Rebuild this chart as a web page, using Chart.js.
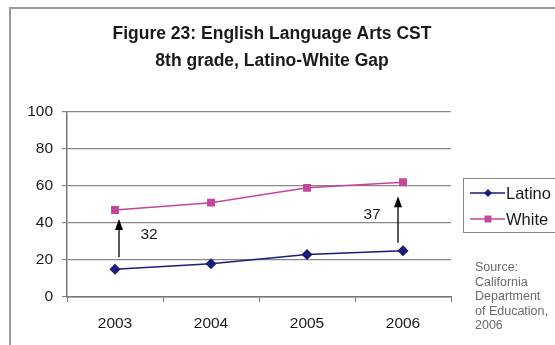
<!DOCTYPE html>
<html>
<head>
<meta charset="utf-8">
<script src="https://cdn.jsdelivr.net/npm/chart.js@4/dist/chart.umd.min.js"></script>
<style>
  html, body { margin: 0; padding: 0; background: #fff; }
  #wrap { width: 555px; height: 345px; }
</style>
</head>
<body>
<div id="wrap"><canvas id="chart" width="555" height="345"></canvas></div>
<script>
const years = ['2003', '2004', '2005', '2006'];
const latino = [15, 18, 23, 25];
const white = [47, 51, 59, 62];
const gapYears = ['2003', '2006'];
const gapLabels = ['32', '37'];
const titleLines = ['Figure 23: English Language Arts CST', '8th grade, Latino-White Gap'];
const sourceLines = ['Source:', 'California', 'Department', 'of Education,', '2006'];

const NAVY = '#1c1c7c';
const PINK = '#c4469c';
const FONT = '"Liberation Sans", Arial, sans-serif';

// frame, title, gap arrows, legend and source note
const decor = {
  id: 'decor',
  beforeDraw(chart){
    const ctx = chart.ctx;
    ctx.save();
    ctx.fillStyle = '#fff';
    ctx.fillRect(0, 0, chart.width, chart.height);
    ctx.strokeStyle = '#9a9a9a';
    ctx.lineWidth = 2;
    ctx.strokeRect(10, 8, 600, 400);
    ctx.restore();
  },
  afterDraw(chart){
    const ctx = chart.ctx;
    const x = chart.scales.x, y = chart.scales.y;
    ctx.save();

    // title
    ctx.fillStyle = '#1a1a1a';
    ctx.font = 'bold 17.5px ' + FONT;
    ctx.textAlign = 'center';
    ctx.textBaseline = 'middle';
    ctx.fillText(titleLines[0], 272, 34);
    ctx.fillText(titleLines[1], 272, 61);

    // gap arrows
    gapYears.forEach((yr, k) => {
      const i = years.indexOf(yr);
      const px = x.getPixelForValue(i) + (k === 0 ? 4 : -5);
      const yTop = y.getPixelForValue(white[i]) + (k === 0 ? 9 : 14);
      const yBot = y.getPixelForValue(latino[i]) - (k === 0 ? 12 : 8);
      ctx.strokeStyle = '#000';
      ctx.fillStyle = '#000';
      ctx.lineWidth = 1.3;
      ctx.beginPath();
      ctx.moveTo(px, yBot);
      ctx.lineTo(px, yTop + 8);
      ctx.stroke();
      ctx.beginPath();
      ctx.moveTo(px, yTop);
      ctx.lineTo(px - 4, yTop + 11);
      ctx.lineTo(px + 4, yTop + 11);
      ctx.closePath();
      ctx.fill();
      ctx.fillStyle = '#1a1a1a';
      ctx.font = '15.5px ' + FONT;
      ctx.textAlign = 'center';
      ctx.textBaseline = 'middle';
      const lx = k === 0 ? px + 30 : px - 26;
      const ly = k === 0 ? y.getPixelForValue(34) : y.getPixelForValue(45);
      ctx.fillText(gapLabels[k], lx, ly + 1);
    });

    // legend
    ctx.strokeStyle = '#888';
    ctx.lineWidth = 1;
    ctx.strokeRect(463.5, 178.5, 120, 54);
    const items = [['Latino', NAVY, 'diamond', 193], ['White', PINK, 'square', 219]];
    items.forEach(([label, color, shape, ly]) => {
      ctx.strokeStyle = color;
      ctx.fillStyle = color;
      ctx.lineWidth = 1.5;
      ctx.beginPath();
      ctx.moveTo(470, ly);
      ctx.lineTo(505, ly);
      ctx.stroke();
      ctx.beginPath();
      if(shape === 'diamond'){
        ctx.moveTo(488, ly - 4); ctx.lineTo(492, ly); ctx.lineTo(488, ly + 4); ctx.lineTo(484, ly);
      }else{
        ctx.rect(484.5, ly - 3.5, 7, 7);
      }
      ctx.closePath();
      ctx.fill();
      ctx.fillStyle = '#1a1a1a';
      ctx.font = '16.5px ' + FONT;
      ctx.textAlign = 'left';
      ctx.textBaseline = 'middle';
      ctx.fillText(label, 506, ly + 1);
    });

    // source note
    ctx.fillStyle = '#6a6a6a';
    ctx.font = '12.5px ' + FONT;
    ctx.textAlign = 'left';
    ctx.textBaseline = 'middle';
    sourceLines.forEach((s, i) => ctx.fillText(s, 475, 268 + i * 14.5));

    ctx.restore();
  }
};

new Chart(document.getElementById('chart'), {
  type: 'line',
  data: {
    labels: years,
    datasets: [
      { label: 'Latino', data: latino, borderColor: NAVY, backgroundColor: NAVY, borderWidth: 1.5,
        pointStyle: 'rectRot', pointRadius: 4.5, pointHoverRadius: 4.5, tension: 0 },
      { label: 'White', data: white, borderColor: PINK, backgroundColor: PINK, borderWidth: 1.5,
        pointStyle: 'rect', pointRadius: 4.5, pointHoverRadius: 4.5, tension: 0 }
    ]
  },
  options: {
    responsive: false,
    animation: false,
    devicePixelRatio: 1,
    layout: { padding: { left: 0, top: 112, right: 104, bottom: 0 } },
    plugins: { legend: { display: false }, title: { display: false }, tooltip: { enabled: false } },
    scales: {
      x: {
        offset: true,
        grid: { offset: true, drawOnChartArea: false, drawTicks: true, tickLength: 5, color: '#777' },
        border: { color: '#777', width: 1.5 },
        ticks: { font: { family: FONT, size: 15.5 }, color: '#1a1a1a', padding: 12, maxRotation: 0 },
        afterFit(s){ s.height = 48; }
      },
      y: {
        min: 0, max: 100,
        grid: { color: '#888', lineWidth: 1.2, tickLength: 5 },
        border: { color: '#777', width: 1.5 },
        ticks: { stepSize: 20, font: { family: FONT, size: 15.5 }, color: '#1a1a1a', padding: 9 },
        afterFit(s){ s.width = 67; }
      }
    }
  },
  plugins: [decor]
});
</script>
</body>
</html>
